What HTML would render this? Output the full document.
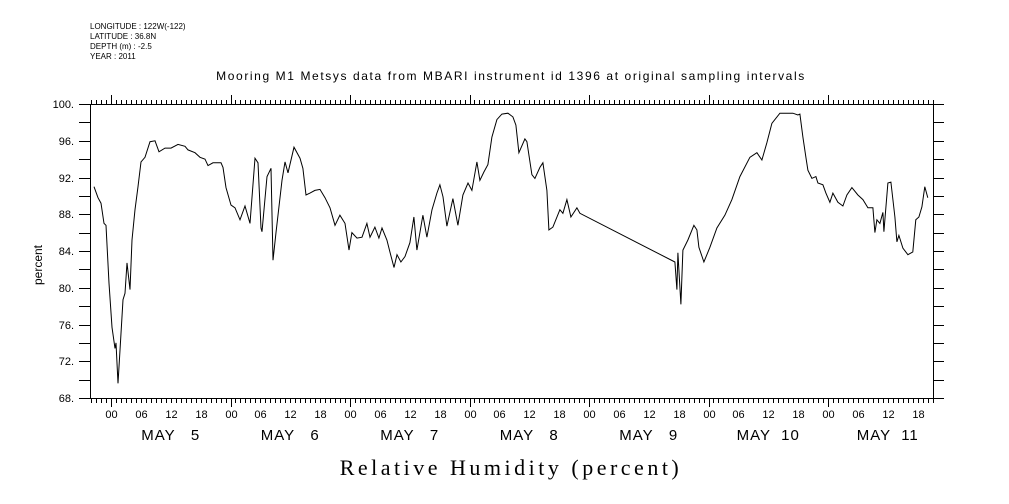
<!DOCTYPE html>
<html><head><meta charset="utf-8"><style>
body{margin:0;background:#fff;}
svg{display:block;font-family:"Liberation Sans",sans-serif;}
</style></head><body>
<svg id="chart" width="1009" height="504" viewBox="0 0 1009 504" xmlns="http://www.w3.org/2000/svg">
<rect width="1009" height="504" fill="#fff"/>
<g font-size="8" fill="#000">
<text x="90" y="29">LONGITUDE : 122W(-122)</text>
<text x="90" y="39">LATITUDE : 36.8N</text>
<text x="90" y="49">DEPTH (m) : -2.5</text>
<text x="90" y="59">YEAR : 2011</text>
</g>
<text x="511" y="80" text-anchor="middle" font-size="12" letter-spacing="1.6">Mooring M1 Metsys data from MBARI instrument id 1396 at original sampling intervals</text>
<text transform="translate(42,265) rotate(-90)" text-anchor="middle" font-size="12">percent</text>
<text x="511" y="475" text-anchor="middle" font-size="22" font-family="Liberation Serif, serif" letter-spacing="3.5">Relative Humidity (percent)</text>
<g id="axes" shape-rendering="crispEdges" stroke="#000" stroke-width="1"></g>
<g id="labels" font-size="11" fill="#000"></g>
<path id="series" fill="none" stroke="#000" stroke-width="1"/>
</svg>
<script>
// hours since May 5 00:00 (2011)
const hours = [-3.41,-2.61,-2.01,-1.41,-1.0,-0.4,0.2,0.8,1.0,1.41,1.81,2.41,2.81,3.21,3.82,4.22,4.82,5.42,6.03,6.83,7.83,8.84,9.64,10.85,12.05,13.46,14.86,15.46,16.87,17.87,18.88,19.48,20.49,21.49,22.09,22.49,23.10,24.10,24.90,25.91,26.91,27.92,28.92,29.52,30.13,30.33,31.33,32.13,32.53,33.13,34.34,34.94,35.54,36.75,37.95,38.55,39.16,39.96,40.96,41.97,42.97,43.98,44.98,45.98,46.99,47.79,48.39,49.40,50.40,51.40,52.01,53.01,53.81,54.42,55.42,56.02,56.83,57.43,58.23,59.04,60.04,60.84,61.44,62.65,63.45,64.46,65.46,66.06,66.67,67.47,68.67,69.68,70.68,71.69,72.49,73.49,74.09,74.90,75.70,76.50,77.51,78.51,79.72,80.72,81.32,81.93,83.13,83.53,84.54,85.14,86.14,86.75,87.55,87.95,88.75,90.16,90.76,91.56,92.37,93.57,94.17,113.25,113.65,113.85,114.45,114.86,115.86,117.07,117.67,118.07,119.07,120.28,121.69,123.29,124.70,126.31,128.31,129.72,130.72,131.73,132.73,134.34,136.95,137.95,138.35,138.95,139.56,139.96,140.76,141.57,141.97,142.97,143.58,144.38,144.98,145.99,146.99,147.79,148.80,150.00,151.01,152.01,153.02,153.42,153.82,154.42,155.02,155.22,156.03,156.63,157.43,157.83,158.23,159.04,160.04,161.04,161.64,162.25,162.85,163.45,164.05];
const humidity = [91.0,89.8,89.2,87.0,86.8,80.5,75.7,73.4,74.0,69.6,73.2,78.7,79.4,82.7,79.8,85.2,88.5,91.0,93.7,94.2,95.9,96.0,94.8,95.2,95.2,95.6,95.4,95.0,94.7,94.2,94.0,93.3,93.6,93.6,93.6,93.1,90.9,89.0,88.7,87.4,88.9,87.0,94.1,93.6,86.5,86.1,92.1,93.0,83.0,86.0,91.7,93.7,92.5,95.3,94.1,93.0,90.1,90.3,90.6,90.7,89.8,88.7,86.8,87.9,87.0,84.1,86.0,85.4,85.5,87.0,85.5,86.6,85.4,86.5,85.2,83.9,82.2,83.6,82.8,83.4,84.9,87.7,84.1,87.9,85.5,88.5,90.3,91.2,89.9,86.7,89.7,86.8,90.1,91.4,90.6,93.7,91.7,92.6,93.4,96.4,98.3,98.9,99.0,98.6,97.7,94.7,96.2,95.9,92.3,91.9,93.1,93.6,90.6,86.3,86.6,88.5,88.1,89.6,87.7,88.7,88.1,82.8,79.8,83.8,78.2,84.1,85.2,86.8,86.3,84.4,82.8,84.4,86.5,87.9,89.6,92.1,94.2,94.7,93.9,95.8,97.9,99.0,99.0,98.8,98.9,96.4,94.2,92.8,91.9,92.1,91.4,91.2,90.3,89.3,90.3,89.3,88.9,90.1,90.9,90.1,89.6,88.7,88.7,86.0,87.4,87.0,88.2,86.1,91.4,91.5,87.7,85.0,85.7,84.3,83.6,83.9,87.4,87.7,88.8,91.0,89.8];
const yTicks = [68,72,76,80,84,88,92,96,100];
const dayNames = ["MAY   5","MAY   6","MAY   7","MAY   8","MAY   9","MAY  10","MAY  11"];
const hourLabels = ["00","06","12","18"];

const X0=90, X1=933, Y0=104, Y1=398;
const pxPerHour = 119.5/24;
function xs(h){return 111 + h*pxPerHour;}
function ys(v){return Y0 + (100-v)*(Y1-Y0)/32;}
const NS="http://www.w3.org/2000/svg";
const axes=document.getElementById('axes'), labels=document.getElementById('labels');
function line(x1,y1,x2,y2,name){const l=document.createElementNS(NS,'line');l.setAttribute('x1',x1);l.setAttribute('y1',y1);l.setAttribute('x2',x2);l.setAttribute('y2',y2);


axes.appendChild(l);}
function text(x,y,s,anchor,size,name,ls){const t=document.createElementNS(NS,'text');t.setAttribute('x',x);t.setAttribute('y',y);t.setAttribute('text-anchor',anchor);if(size)t.setAttribute('font-size',size);if(ls)t.setAttribute('letter-spacing',ls);t.setAttribute('style','white-space:pre');t.textContent=s;


labels.appendChild(t);}
const fr=document.createElementNS(NS,'rect');
fr.setAttribute('x',X0+0.5);fr.setAttribute('y',Y0+0.5);fr.setAttribute('width',X1-X0);fr.setAttribute('height',Y1-Y0);fr.setAttribute('fill','none');


axes.appendChild(fr);
for(let v=68; v<=100; v+=2){const y=Math.round(ys(v))+0.5; line(X0-11,y,X0,y,'y-tick-left'); line(X1,y,X1+11,y,'y-tick-right');}
yTicks.forEach(v=>text(74,Math.round(ys(v))+4,v+'.','end',11,'y-tick-label'));
const hStart=Math.ceil((X0-111)/pxPerHour), hEnd=Math.floor((X1-111)/pxPerHour);
for(let h=hStart; h<=hEnd; h++){const x=Math.round(xs(h))+0.5; const major=(h%24===0);
line(x,Y0-(major?9:4),x,Y0,'x-tick-top'); line(x,Y1,x,Y1+(major?9:5),'x-tick-bottom');
if(h%6===0) text(x,Y1+20,hourLabels[((h%24)+24)%24/6],'middle',11,'x-tick-label');}
dayNames.forEach((d,i)=>text(xs(i*24+12),440,d,'middle',15,'day-label',1));
let d='';
hours.forEach((h,i)=>{d+=(i?'L':'M')+xs(h).toFixed(1)+' '+ys(humidity[i]).toFixed(1);});
document.getElementById('series').setAttribute('d',d);
</script>
</body></html>
